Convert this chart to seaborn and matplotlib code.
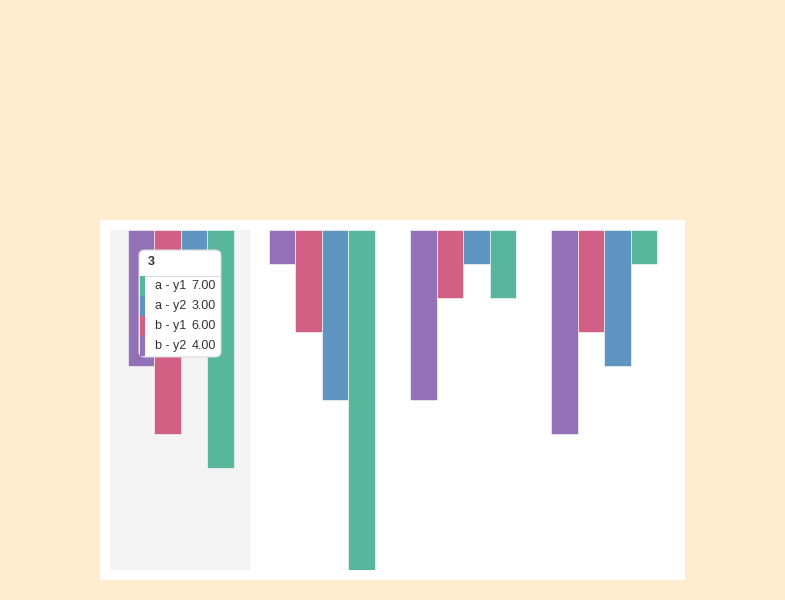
import pandas as pd
import seaborn as sns
import matplotlib.pyplot as plt
from matplotlib.patches import FancyBboxPatch, Rectangle

# chart data
categories = ['3', '4', '5', '6']
a_y1 = [7, 10, 2, 1]
a_y2 = [3, 5, 1, 4]
b_y1 = [6, 3, 2, 3]
b_y2 = [4, 1, 5, 6]

series_order = ['b - y2', 'b - y1', 'a - y2', 'a - y1']
palette = {'b - y2': '#9271b6', 'b - y1': '#d26085', 'a - y2': '#6095c1', 'a - y1': '#57b69b'}

rows = []
for name, vals in [('a - y1', a_y1), ('a - y2', a_y2), ('b - y1', b_y1), ('b - y2', b_y2)]:
    for cat, v in zip(categories, vals):
        rows.append({'x': cat, 'series': name, 'value': v})
df = pd.DataFrame(rows)

W, H = 785, 600

def fx(x):
    return x / W

def fy(y):
    return 1 - y / H

sns.set_style('white')
plt.rcParams['font.family'] = ['Liberation Sans', 'DejaVu Sans']
fig = plt.figure(figsize=(W / 100, H / 100), dpi=100)
fig.patch.set_facecolor('#ffebcd')

# white chart box
fig.add_artist(Rectangle((fx(100), fy(580)), 585 / W, 360 / H, transform=fig.transFigure,
                         facecolor='white', edgecolor='none', zorder=0))

ax = fig.add_axes([fx(110), fy(570), 565 / W, 340 / H])
ax.set_facecolor('none')

# hovered category band
ax.axvspan(-0.5, 0.5, color='#f4f4f4', zorder=0, lw=0)

sns.barplot(data=df, x='x', y='value', hue='series', hue_order=series_order, order=categories,
            palette=palette, width=0.75, gap=0, saturation=1, ax=ax, legend=False,
            edgecolor='white', linewidth=0.4, zorder=2)

ax.set_xlim(-0.5, 3.5)
ax.set_ylim(10, 0)
ax.set_axis_off()

# tooltip
tip = FancyBboxPatch((fx(139), fy(357)), 82 / W, 107 / H, transform=fig.transFigure,
                     boxstyle='round,pad=0,rounding_size=0.008', facecolor='white',
                     edgecolor='#d8d8d8', linewidth=0.8, zorder=10)
fig.add_artist(tip)
fig.text(fx(148), fy(262), categories[0], fontsize=9, fontweight='bold', color='#333333',
         va='center', ha='left', zorder=11)
fig.add_artist(plt.Line2D([fx(140), fx(220)], [fy(275.5), fy(275.5)], transform=fig.transFigure,
                          color='#dddddd', lw=0.8, zorder=11))
tip_rows = [('a - y1', a_y1[0]), ('a - y2', a_y2[0]), ('b - y1', b_y1[0]), ('b - y2', b_y2[0])]
for i, (name, v) in enumerate(tip_rows):
    top = 276 + i * 20
    fig.add_artist(Rectangle((fx(140), fy(top + 20)), 5 / W, 20 / H, transform=fig.transFigure,
                             facecolor=palette[name], edgecolor='none', zorder=11))
    fig.text(fx(155), fy(top + 10), name, fontsize=9, color='#333333', va='center', ha='left', zorder=12)
    fig.text(fx(216), fy(top + 10), f'{v:.2f}', fontsize=9, color='#333333', va='center', ha='right', zorder=12)

plt.savefig('out.png', dpi=100, facecolor=fig.get_facecolor())
